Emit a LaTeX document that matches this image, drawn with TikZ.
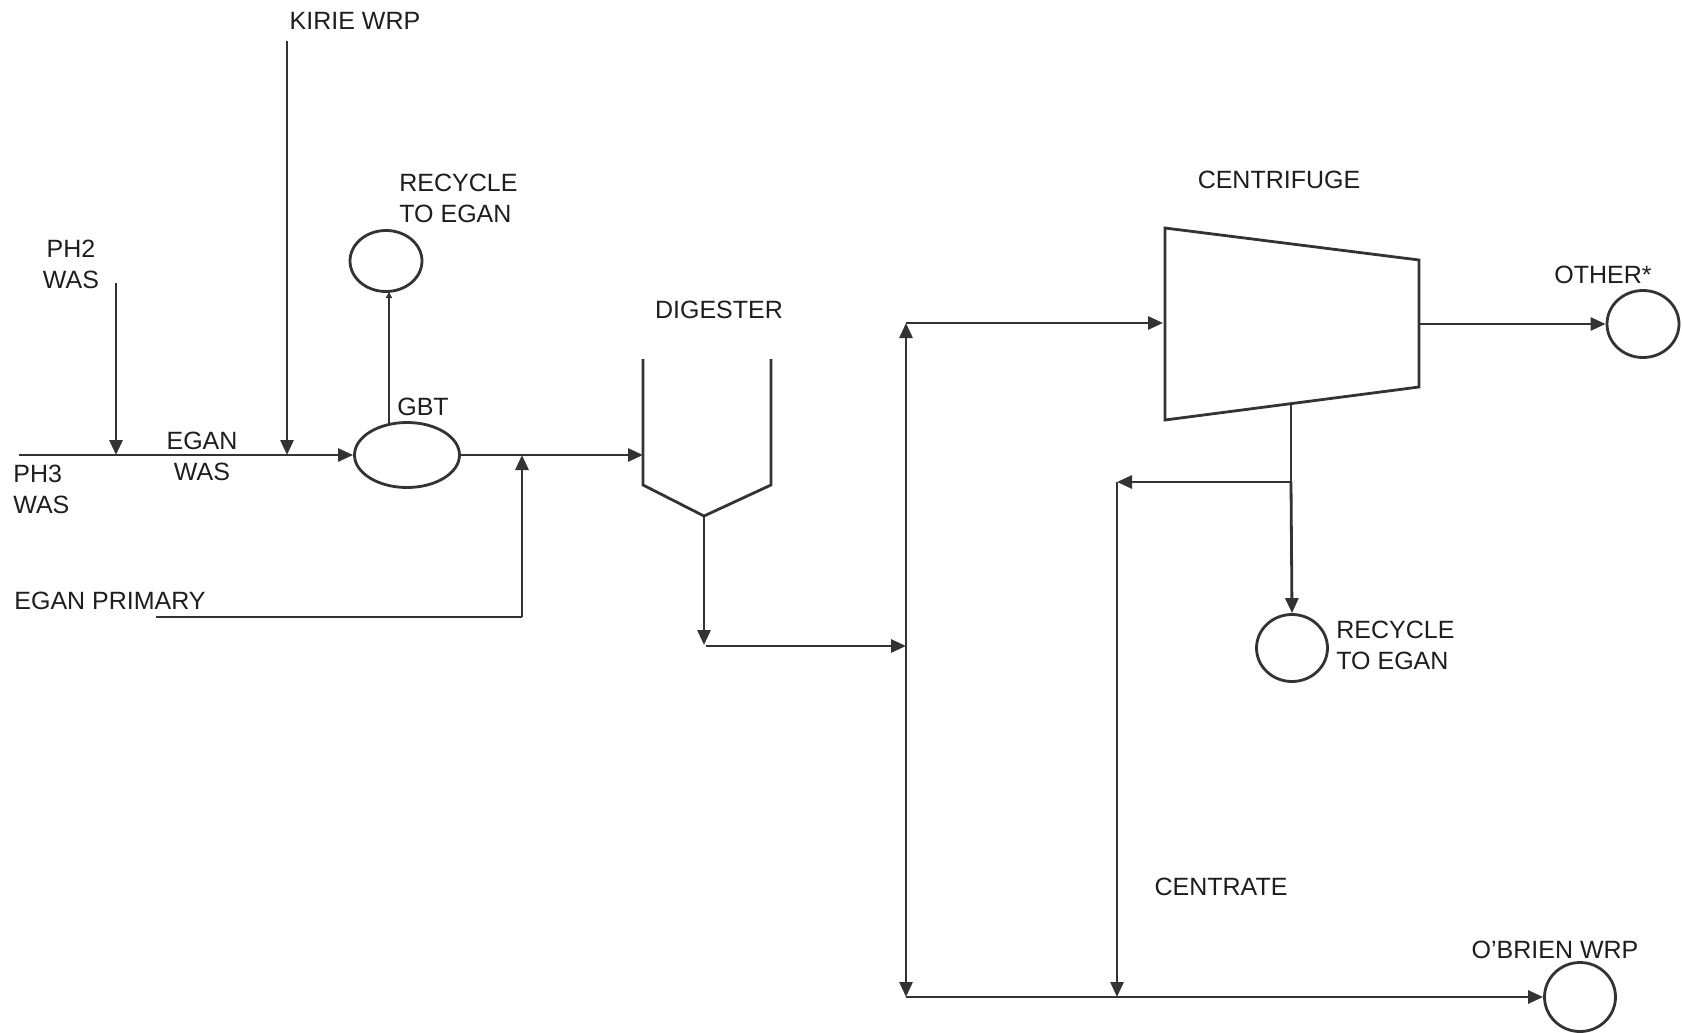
\documentclass[tikz,border=0pt]{standalone}
\usepackage{fontspec}
\setmainfont{Liberation Sans}
\usetikzlibrary{arrows.meta,shapes.geometric}
\definecolor{ln}{HTML}{333333}
\definecolor{tx}{HTML}{1E1E1E}
\begin{document}
\begin{tikzpicture}[x=1pt,y=-1pt,
  line width=2.8pt,
  flow/.style={draw=ln,-{Triangle[length=15pt,width=13pt]}},
  flowsmall/.style={draw=ln,-{Triangle[length=6pt,width=6pt]}},
  flowboth/.style={draw=ln,{Triangle[length=15pt,width=13pt]}-{Triangle[length=15pt,width=13pt]}},
  pipe/.style={draw=ln},
  tank/.style={draw=ln,ellipse,inner sep=0pt},
  lbl/.style={text=tx,font=\fontsize{25}{31}\selectfont,inner sep=0pt}]
\useasboundingbox[fill=white] (0,0) rectangle (1682,1033);

% equipment
\node[tank,minimum width=105pt,minimum height=65pt] (gbt) at (407,455) {};
\node[tank,minimum width=72pt,minimum height=61pt] (rec1) at (386,261) {};
\node[tank,minimum width=72pt,minimum height=67pt] (other) at (1643,324) {};
\node[tank,minimum width=71pt,minimum height=67pt] (rec2) at (1292,648) {};
\node[tank,minimum width=71pt,minimum height=69pt] (obrien) at (1580,997) {};

% digester
\coordinate (dtl) at (643,359);
\coordinate (dbl) at (643,485);
\coordinate (dv) at (704,516);
\coordinate (dbr) at (771,485);
\coordinate (dtr) at (771,359);
\draw[pipe,line join=miter] (dtl) -- (dbl) -- (dv) -- (dbr) -- (dtr);

% centrifuge
\coordinate (ctl) at (1165,228);
\coordinate (ctr) at (1419,260);
\coordinate (cbr) at (1419,387);
\coordinate (cbl) at (1165,420);
\draw[pipe] (ctl) -- (ctr) -- (cbr) -- (cbl) -- cycle;

% coordinates for connectors
\coordinate (ph3s) at (19,455);
\coordinate (ph2s) at (116,283);
\coordinate (ph2e) at (116,455);
\coordinate (kis) at (287,41);
\coordinate (kie) at (287,455);
\coordinate (gbttop) at (389,424);
\coordinate (rec1bot) at (389,292);
\coordinate (digin) at (643,455);
\coordinate (eps) at (156,617);
\coordinate (epc) at (522,617);
\coordinate (epe) at (522,455);
\coordinate (dout) at (704,645);
\coordinate (dh) at (706,646);
\coordinate (vtop) at (906,323);
\coordinate (vmid) at (906,646);
\coordinate (vbot) at (906,997);
\coordinate (cin) at (1163,323);
\coordinate (cout) at (1419,324);
\coordinate (cbot) at (1291,404);
\coordinate (cj) at (1291,482);
\coordinate (ct) at (1117,482);
\coordinate (ctb) at (1117,997);

% connectors
\draw[pipe] (ph3s) -- (ph2e);
\draw[flow] (ph2e) -- (gbt.west);
\draw[flow] (ph2s) -- (ph2e);
\draw[flow] (kis) -- (kie);
\draw[flowsmall] (gbttop) -- (rec1bot);
\draw[flow] (gbt.east) -- (digin);
\draw[pipe] (eps) -- (epc);
\draw[flow] (epc) -- (epe);
\draw[flow] (dv) -- (dout);
\draw[flow] (dh) -- (vmid);
\draw[flowboth] (vbot) -- (vtop);
\draw[flow] (vtop) -- (cin);
\draw[flow] (cout) -- (other.west);
\draw[pipe] (cbot) -- (cj);
\draw[flow] (cj) -- (ct);
\draw[flow] (cj) -- (rec2.north);
\draw[flow] (ct) -- (ctb);
\draw[flow] (vbot) -- (obrien.west);

% labels
\node[lbl] (tkirie) at (355,21) {KIRIE WRP};
\node[lbl,align=center] (tph2) at (71,264) {PH2\\WAS};
\node[lbl,align=left,anchor=west] (tph3) at (12,489) {PH3\\WAS};
\node[lbl,align=center] (tegan) at (202,456) {EGAN\\WAS};
\node[lbl] (tgbt) at (423,407) {GBT};
\node[lbl,align=left,anchor=west] (trec1) at (398,198) {RECYCLE\\TO EGAN};
\node[lbl] (tdig) at (719,310) {DIGESTER};
\node[lbl,anchor=west] (tprim) at (13,601) {EGAN PRIMARY};
\node[lbl] (tcent) at (1279,180) {CENTRIFUGE};
\node[lbl] (tother) at (1603,275) {OTHER*};
\node[lbl,align=left,anchor=west] (trec2) at (1335,645) {RECYCLE\\TO EGAN};
\node[lbl] (tcentrate) at (1221,887) {CENTRATE};
\node[lbl] (tobrien) at (1555,950) {O'BRIEN WRP};
\end{tikzpicture}
\end{document}
